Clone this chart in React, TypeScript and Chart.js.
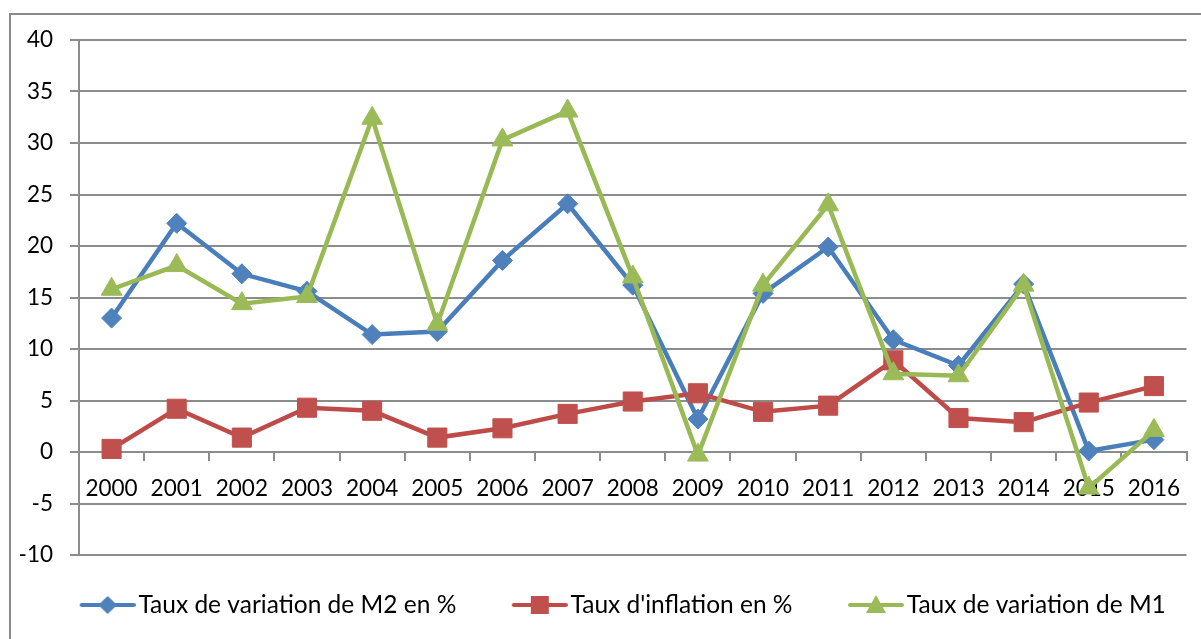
import React, { useEffect, useRef } from 'react';
import { Chart, registerables } from 'chart.js';

Chart.register(...registerables);

const years = ['2000', '2001', '2002', '2003', '2004', '2005', '2006', '2007', '2008', '2009', '2010', '2011', '2012', '2013', '2014', '2015', '2016'];
const m2Values = [13.0, 22.2, 17.3, 15.6, 11.4, 11.7, 18.6, 24.1, 16.2, 3.2, 15.4, 19.9, 10.9, 8.4, 16.3, 0.1, 1.2];
const inflationValues = [0.3, 4.2, 1.4, 4.3, 4.0, 1.4, 2.3, 3.7, 4.9, 5.7, 3.9, 4.5, 8.9, 3.3, 2.9, 4.8, 6.4];
const m1Values = [15.8, 18.1, 14.4, 15.1, 32.4, 12.4, 30.3, 33.1, 17.0, -0.3, 16.2, 24.0, 7.6, 7.4, 16.2, -3.5, 2.1];
const seriesNames = ['Taux de variation de M2 en %', "Taux d'inflation en %", 'Taux de variation de M1'];
const yMin = -10;
const yMax = 40;
const yStep = 5;

const BLUE = '#4A7EBB';
const BLUE_FILL = '#4F81BD';
const RED = '#BE4B48';
const RED_FILL = '#C0504D';
const GREEN = '#98B954';
const GREEN_FILL = '#9BBB59';
const GRID = '#8c8c8c';
const FONT = 'Lato, "Open Sans", sans-serif';
const AXIS_FONT_SIZE = 22.5;
const LEGEND_FONT_SIZE = 24.5;
const LEGEND_BOX = 87;

function makeIcon(line: string, fill: string, shape: 'diamond' | 'square' | 'triangle') {
  const w = Math.round(LEGEND_BOX + LEGEND_FONT_SIZE - 6);
  const c = document.createElement('canvas');
  c.width = w;
  c.height = 24;
  const ctx = c.getContext('2d')!;
  const x0 = w - 56;
  ctx.strokeStyle = line;
  ctx.lineWidth = 4;
  ctx.lineCap = 'round';
  ctx.beginPath();
  ctx.moveTo(x0 + 2, 12);
  ctx.lineTo(w - 2, 12);
  ctx.stroke();
  const cx = x0 + 28;
  const cy = 12;
  ctx.fillStyle = fill;
  ctx.beginPath();
  if (shape === 'diamond') {
    ctx.moveTo(cx - 9.5, cy);
    ctx.lineTo(cx, cy - 9);
    ctx.lineTo(cx + 9.5, cy);
    ctx.lineTo(cx, cy + 9);
  } else if (shape === 'square') {
    ctx.rect(cx - 9, cy - 9, 18, 18);
  } else {
    ctx.moveTo(cx, cy - 10);
    ctx.lineTo(cx + 10, cy + 8);
    ctx.lineTo(cx - 10, cy + 8);
  }
  ctx.closePath();
  ctx.fill();
  return c;
}

export default function App() {
  const ref = useRef<HTMLCanvasElement | null>(null);

  useEffect(() => {
    if (!ref.current) return;
    const icons = [
      makeIcon(BLUE, BLUE_FILL, 'diamond'),
      makeIcon(RED, RED_FILL, 'square'),
      makeIcon(GREEN, GREEN_FILL, 'triangle'),
    ];
    const chart = new Chart(ref.current, {
      type: 'line',
      data: {
        labels: years,
        datasets: [
          {
            label: seriesNames[0],
            data: m2Values,
            borderColor: BLUE,
            backgroundColor: BLUE_FILL,
            borderWidth: 4.5,
            pointStyle: 'rectRot',
            pointRadius: 10,
            pointBorderWidth: 1,
            pointBorderColor: BLUE_FILL,
            pointBackgroundColor: BLUE_FILL,
            tension: 0,
            order: 3,
          },
          {
            label: seriesNames[1],
            data: inflationValues,
            borderColor: RED,
            backgroundColor: RED_FILL,
            borderWidth: 4.5,
            pointStyle: 'rect',
            pointRadius: 13.5,
            pointBorderWidth: 1,
            pointBorderColor: RED_FILL,
            pointBackgroundColor: RED_FILL,
            tension: 0,
            order: 2,
          },
          {
            label: seriesNames[2],
            data: m1Values,
            borderColor: GREEN,
            backgroundColor: GREEN_FILL,
            borderWidth: 4.5,
            pointStyle: 'triangle',
            pointRadius: 12,
            pointBorderWidth: 1,
            pointBorderColor: GREEN_FILL,
            pointBackgroundColor: GREEN_FILL,
            tension: 0,
            order: 1,
          },
        ],
      },
      options: {
        responsive: false,
        animation: false,
        layout: { padding: { left: 11, right: 7, top: 40, bottom: 11.75 } },
        plugins: {
          tooltip: { enabled: false },
          legend: {
            display: true,
            position: 'bottom',
            title: {
              display: true,
              text: '',
              padding: { top: 0, bottom: 0 },
              font: { size: 1, lineHeight: 22.75 },
            },
            labels: {
              usePointStyle: true,
              pointStyleWidth: LEGEND_BOX,
              boxHeight: LEGEND_FONT_SIZE,
              padding: 15,
              color: '#000',
              font: { family: FONT, size: LEGEND_FONT_SIZE },
              sort: (a: any, b: any) => a.datasetIndex - b.datasetIndex,
              generateLabels: (ch: any) => {
                const items = (Chart.defaults.plugins.legend.labels as any).generateLabels(ch);
                return items.map((it: any) => ({ ...it, pointStyle: icons[it.datasetIndex], fontColor: '#000' }));
              },
            },
          },
        },
        scales: {
          x: {
            type: 'category',
            position: { y: 0 } as any,
            offset: true,
            afterFit: (s: any) => { s.height = 0; },
            grid: {
              display: true,
              drawOnChartArea: false,
              drawTicks: true,
              tickLength: 8,
              color: GRID,
              lineWidth: 2,
              offset: true,
            },
            border: { display: true, color: GRID, width: 2 },
            ticks: {
              color: '#000',
              font: { family: FONT, size: AXIS_FONT_SIZE },
              padding: 15,
              maxRotation: 0,
              autoSkip: false,
            },
          },
          y: {
            min: yMin,
            max: yMax,
            afterFit: (s: any) => { s.width = 68; },
            grid: {
              color: GRID,
              lineWidth: 2,
              drawTicks: true,
              tickLength: 9,
            },
            border: { display: true, color: GRID, width: 2 },
            ticks: {
              stepSize: yStep,
              color: '#000',
              font: { family: FONT, size: AXIS_FONT_SIZE },
              padding: 17,
            },
          },
        },
      },
    });
    return () => chart.destroy();
  }, []);

  return (
    <div style={{ position: 'fixed', left: 0, top: 0, width: 1201, height: 639, overflow: 'hidden', background: '#fff' }}>
      <div style={{ position: 'absolute', left: 9, top: 13, width: 1400, height: 900, borderLeft: '2px solid #8a8a8a', borderTop: '2px solid #8a8a8a' }} />
      <canvas ref={ref} width={1201} height={639} style={{ position: 'absolute', left: 0, top: 0 }} />
    </div>
  );
}
